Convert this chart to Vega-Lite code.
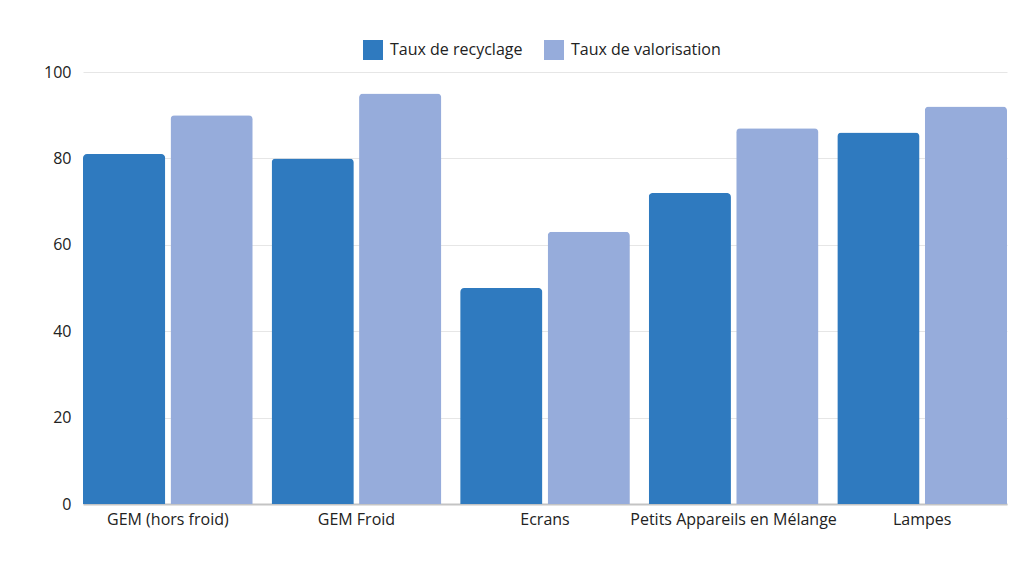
{
  "$schema": "https://vega.github.io/schema/vega-lite/v6.json",
  "width": 924,
  "height": 432,
  "autosize": {"type": "none"},
  "padding": {"left": 83, "top": 72, "right": 17, "bottom": 72},
  "background": "white",
  "config": {
    "font": "Open Sans",
    "view": {"stroke": null}
  },
  "data": {
    "values": [
      {"categorie": "GEM (hors froid)", "serie": "Taux de recyclage", "valeur": 81},
      {"categorie": "GEM (hors froid)", "serie": "Taux de valorisation", "valeur": 90},
      {"categorie": "GEM Froid", "serie": "Taux de recyclage", "valeur": 80},
      {"categorie": "GEM Froid", "serie": "Taux de valorisation", "valeur": 95},
      {"categorie": "Ecrans", "serie": "Taux de recyclage", "valeur": 50},
      {"categorie": "Ecrans", "serie": "Taux de valorisation", "valeur": 63},
      {"categorie": "Petits Appareils en Mélange", "serie": "Taux de recyclage", "valeur": 72},
      {"categorie": "Petits Appareils en Mélange", "serie": "Taux de valorisation", "valeur": 87},
      {"categorie": "Lampes", "serie": "Taux de recyclage", "valeur": 86},
      {"categorie": "Lampes", "serie": "Taux de valorisation", "valeur": 92}
    ]
  },
  "mark": {"type": "bar", "cornerRadiusTopLeft": 4, "cornerRadiusTopRight": 4},
  "encoding": {
    "x": {
      "field": "categorie",
      "type": "nominal",
      "sort": null,
      "scale": {"paddingInner": 0.1, "paddingOuter": 0},
      "axis": {
        "title": null,
        "labelAngle": 0,
        "labelFontSize": 16,
        "labelColor": "#222",
        "labelPadding": 7,
        "labelLimit": 0,
        "ticks": false,
        "domainColor": "#c4c4c4",
        "domainWidth": 2
      }
    },
    "xOffset": {
      "field": "serie",
      "type": "nominal",
      "scale": {"paddingInner": 0.06}
    },
    "y": {
      "field": "valeur",
      "type": "quantitative",
      "scale": {"domain": [0, 100]},
      "axis": {
        "title": null,
        "values": [0, 20, 40, 60, 80, 100],
        "labelFontSize": 16,
        "labelColor": "#222",
        "labelPadding": 12,
        "ticks": false,
        "domain": false,
        "gridColor": "#e6e6e6",
        "gridWidth": 1
      }
    },
    "color": {
      "field": "serie",
      "type": "nominal",
      "scale": {
        "domain": ["Taux de recyclage", "Taux de valorisation"],
        "range": ["#2f7abf", "#96acdb"]
      },
      "legend": {
        "title": null,
        "orient": "none",
        "direction": "horizontal",
        "legendX": 280,
        "legendY": -32,
        "symbolType": "square",
        "symbolSize": 400,
        "symbolStrokeWidth": 0,
        "labelFontSize": 16,
        "labelColor": "#222",
        "labelOffset": 7,
        "columnPadding": 21
      }
    }
  }
}
